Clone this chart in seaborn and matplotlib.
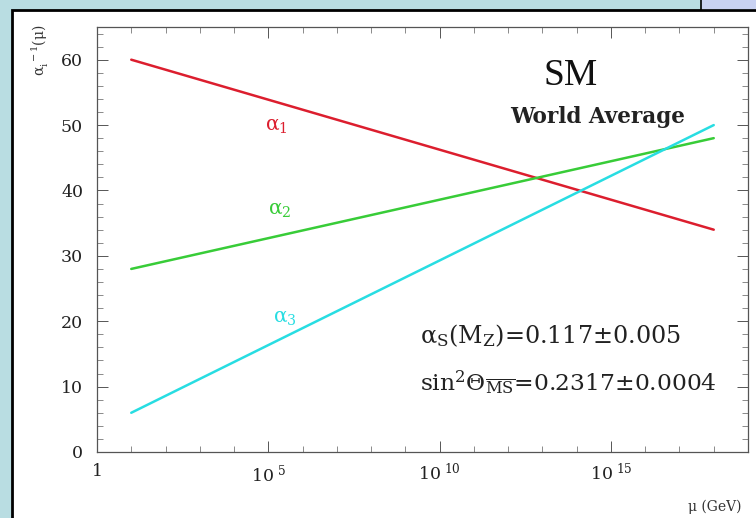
import numpy as np
import pandas as pd
import matplotlib
matplotlib.use("Agg")
import matplotlib.pyplot as plt
import matplotlib.ticker as mticker
from matplotlib.patches import Rectangle
import seaborn as sns

# Inverse gauge couplings at the low and high end of the running (one-loop, straight in log mu)
mu_gev = [1e1, 1e18]
alpha1_inv = [60.0, 34.0]
alpha2_inv = [28.0, 48.0]
alpha3_inv = [6.0, 50.0]
series_names = ["alpha1", "alpha2", "alpha3"]
series_labels = ["$\\mathrm{α}_1$", "$\\mathrm{α}_2$", "$\\mathrm{α}_3$"]
x_tick_values = [1e0, 1e5, 1e10, 1e15]
x_tick_labels = ["1", "$10^{\\ 5}$", "$10^{\\ 10}$", "$10^{\\ 15}$"]
y_tick_values = [0, 10, 20, 30, 40, 50, 60]

colors = {"alpha1": "#dc1e2e", "alpha2": "#38cc38", "alpha3": "#28dde2"}

df = pd.DataFrame({
    "mu": mu_gev * 3,
    "inv": alpha1_inv + alpha2_inv + alpha3_inv,
    "series": [s for s in series_names for _ in mu_gev],
})

sns.set_theme(style="ticks")
plt.rcParams["font.family"] = ["DejaVu Serif", "Liberation Serif"]
plt.rcParams["mathtext.fontset"] = "dejavuserif"

fig = plt.figure(figsize=(7.56, 5.18), dpi=100)
fig.patch.set_facecolor("#b9dde2")

# white panel with black border, and the small box in the top-right corner
fig.patches.append(Rectangle((12 / 756, -0.02), 1.0, 1 - 10 / 518 + 0.02,
                             transform=fig.transFigure, facecolor="white",
                             edgecolor="black", linewidth=2.0, zorder=-10))
fig.patches.append(Rectangle((701 / 756, 1 - 10 / 518), 0.1, 0.05,
                             transform=fig.transFigure, facecolor="#c9d2f2",
                             edgecolor="black", linewidth=1.2, zorder=-10))

ax = fig.add_axes([97 / 756, 1 - 452 / 518, (748 - 97) / 756, (452 - 27) / 518])
ax.set_zorder(5)
ax.set_facecolor("white")

sns.lineplot(data=df, x="mu", y="inv", hue="series", palette=colors,
             linewidth=1.8, legend=False, ax=ax)

ax.set_xscale("log")
ax.set_xlim(1e0, 1e19)
ax.set_ylim(0, 65)

ax.set_xticks(x_tick_values)
ax.set_xticklabels(x_tick_labels)
ax.xaxis.set_minor_locator(mticker.FixedLocator(
    [10.0 ** k for k in range(0, 20) if k % 5 != 0]))
ax.xaxis.set_minor_formatter(mticker.NullFormatter())
ax.set_yticks(y_tick_values)
ax.yaxis.set_minor_locator(mticker.MultipleLocator(2))

ax.tick_params(axis="both", which="major", direction="in", top=True, right=True,
               length=8, width=0.7, color="#555555", labelsize=12.5, labelcolor="#222222")
ax.tick_params(axis="both", which="minor", direction="in", top=True, right=True,
               length=4, width=0.6, color="#777777")
ax.tick_params(axis="y", which="major", pad=10)
ax.tick_params(axis="x", which="major", pad=8)
for sp in ax.spines.values():
    sp.set_color("#555555")
    sp.set_linewidth(0.9)
ax.set_xlabel("")
ax.set_ylabel("")

# curve labels
label_pos = [(0.275, 0.765), (0.280, 0.569), (0.288, 0.315)]
for name, lab, (px, py) in zip(series_names, series_labels, label_pos):
    ax.text(px, py, lab, transform=ax.transAxes, color=colors[name],
            fontsize=14.5, ha="center", va="center")

ax.text(0.727, 0.885, "SM", transform=ax.transAxes, fontsize=27,
        family="Liberation Serif", ha="center", va="center", color="#111111")
ax.text(0.769, 0.788, "World Average", transform=ax.transAxes, fontsize=15.5,
        fontweight="bold", ha="center", va="center", color="#222222")
ax.text(0.496, 0.275, "$\\mathrm{α}_\\mathrm{S}(\\mathrm{M}_\\mathrm{Z})$=0.117±0.005",
        transform=ax.transAxes, fontsize=17.2, ha="left", va="center", color="#222222")
ax.text(0.496, 0.163, "$\\mathrm{sin}^2\\Theta_{\\overline{\\mathrm{MS}}}$=0.2317±0.0004",
        transform=ax.transAxes, fontsize=16.8, ha="left", va="center", color="#222222")

fig.text(0.053, 0.903, "$\\mathrm{α}_\\mathrm{i}^{\\ -1}(\\mathrm{μ})$", rotation=90,
         fontsize=10, ha="center", va="center", color="#333333")
fig.text(0.946, 0.021, "μ (GeV)", fontsize=10, ha="center", va="center",
         color="#333333")

fig.savefig("out.png", dpi=100, facecolor=fig.get_facecolor())
